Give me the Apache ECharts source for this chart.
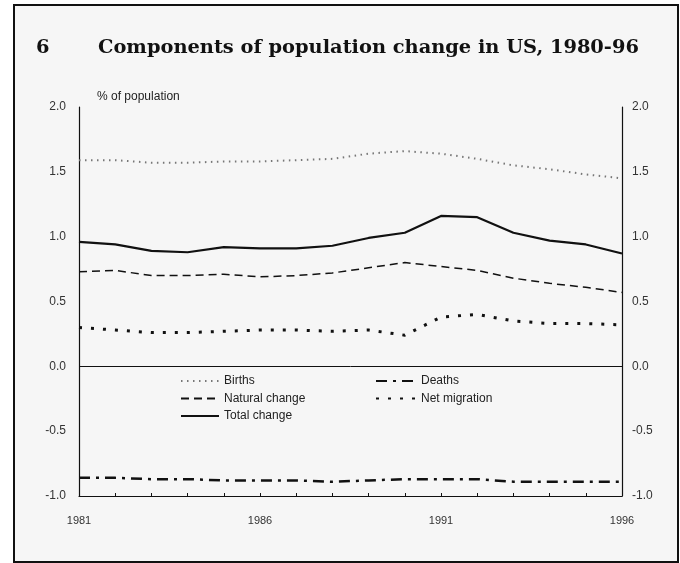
<!DOCTYPE html>
<html>
<head>
<meta charset="utf-8">
<script src="https://cdn.jsdelivr.net/npm/echarts@6/dist/echarts.min.js"></script>
<style>
  html, body { margin: 0; padding: 0; background: #ffffff; }
  #chart { width: 680px; height: 563px; }
</style>
</head>
<body>
<div id="chart"></div>
<script>
// Years on the horizontal axis
const years = ['1981','1982','1983','1984','1985','1986','1987','1988',
               '1989','1990','1991','1992','1993','1994','1995','1996'];

// Components of change, % of population
const births        = [1.59, 1.59, 1.57, 1.57, 1.58, 1.58, 1.59, 1.60, 1.64, 1.66, 1.64, 1.60, 1.55, 1.52, 1.48, 1.45];
const naturalChange = [0.73, 0.74, 0.70, 0.70, 0.71, 0.69, 0.70, 0.72, 0.76, 0.80, 0.77, 0.74, 0.68, 0.64, 0.61, 0.57];
const totalChange   = [0.96, 0.94, 0.89, 0.88, 0.92, 0.91, 0.91, 0.93, 0.99, 1.03, 1.16, 1.15, 1.03, 0.97, 0.94, 0.87];
const deaths        = [-0.86, -0.86, -0.87, -0.87, -0.88, -0.88, -0.88, -0.89, -0.88, -0.87, -0.87, -0.87, -0.89, -0.89, -0.89, -0.89];
const netMigration  = [0.30, 0.28, 0.26, 0.26, 0.27, 0.28, 0.28, 0.27, 0.28, 0.24, 0.38, 0.40, 0.35, 0.33, 0.33, 0.32];

// Value axis ticks
const yTicks = { min: -1.0, max: 2.0, step: 0.5 };

const chart = echarts.init(document.getElementById('chart'), null, { renderer: 'canvas' });

const labelFont = { fontFamily: 'Liberation Sans, Arial, sans-serif', fontSize: 12, color: '#333' };

function lineSeries(name, data, style) {
  const ls = Object.assign({ color: '#111', width: 1.5, type: 'solid' }, style);
  return {
    name: name,
    type: 'line',
    data: data,
    symbol: 'none',
    showSymbol: false,
    smooth: false,
    silent: true,
    color: ls.color,
    itemStyle: { color: ls.color },
    lineStyle: ls
  };
}

const series = [
  lineSeries('Births', births, { color: '#777', width: 2, type: [1.5, 4.5] }),
  lineSeries('Natural change', naturalChange, { color: '#111', width: 1.5, type: [8, 5] }),
  lineSeries('Total change', totalChange, { color: '#111', width: 2.2, type: 'solid' }),
  lineSeries('Deaths', deaths, { color: '#111', width: 2.5, type: [11, 6, 3, 6] }),
  lineSeries('Net migration', netMigration, { color: '#111', width: 3, type: [3, 9] })
];

// Zero reference line
series[2].markLine = {
  silent: true,
  symbol: 'none',
  label: { show: false },
  lineStyle: { color: '#111', width: 1, type: 'solid' },
  data: [{ yAxis: 0 }]
};

function yAxis(position, margin) {
  return {
    type: 'value',
    position: position,
    min: yTicks.min,
    max: yTicks.max,
    interval: yTicks.step,
    axisLine: { show: true, onZero: false, lineStyle: { color: '#111', width: 1.2 } },
    axisTick: { show: false },
    splitLine: { show: false },
    axisLabel: Object.assign({ margin: margin, formatter: v => v.toFixed(1) }, labelFont)
  };
}

const legendText = Object.assign({}, labelFont, { fontSize: 12, color: '#222' });

chart.setOption({
  animation: false,
  backgroundColor: '#ffffff',
  graphic: [{
    type: 'rect',
    left: 13, top: 4,
    shape: { width: 664, height: 557 },
    style: { fill: '#f6f6f6', stroke: '#111', lineWidth: 2 },
    z: -10
  }],
  title: [
    {
      text: '6',
      left: 31, top: 33,
      textStyle: { fontFamily: 'DejaVu Serif, serif', fontWeight: 'bold', fontSize: 19.4, color: '#111' }
    },
    {
      text: 'Components of population change in US, 1980-96',
      left: 93, top: 33,
      textStyle: { fontFamily: 'DejaVu Serif, serif', fontWeight: 'bold', fontSize: 19.4, color: '#111' }
    },
    {
      text: '% of population',
      left: 92, top: 86,
      textStyle: { fontFamily: 'Liberation Sans, Arial, sans-serif', fontWeight: 'normal', fontSize: 12, color: '#222' }
    }
  ],
  legend: [
    {
      data: ['Births', 'Natural change', 'Total change'],
      orient: 'vertical',
      left: 180, top: 375, padding: 0,
      itemWidth: 38, itemHeight: 10, itemGap: 5.5,
      selectedMode: false,
      itemStyle: { opacity: 0 },
      textStyle: legendText
    },
    {
      data: ['Deaths', 'Net migration'],
      orient: 'vertical',
      left: 375, top: 375, padding: 0,
      itemWidth: 40, itemHeight: 10, itemGap: 5.5,
      selectedMode: false,
      itemStyle: { opacity: 0 },
      textStyle: legendText
    }
  ],
  grid: { left: 79, right: 58, top: 107, bottom: 67, containLabel: false },
  xAxis: {
    type: 'category',
    data: years,
    boundaryGap: false,
    axisLine: { show: true, onZero: false, lineStyle: { color: '#111', width: 1.2 } },
    axisTick: { show: true, inside: true, length: 3, interval: 0, lineStyle: { color: '#111' } },
    axisLabel: Object.assign({ interval: 4, margin: 19 }, labelFont, { fontSize: 11 }),
    splitLine: { show: false }
  },
  yAxis: [yAxis('left', 13), yAxis('right', 10)],
  series: series
});
</script>
</body>
</html>
